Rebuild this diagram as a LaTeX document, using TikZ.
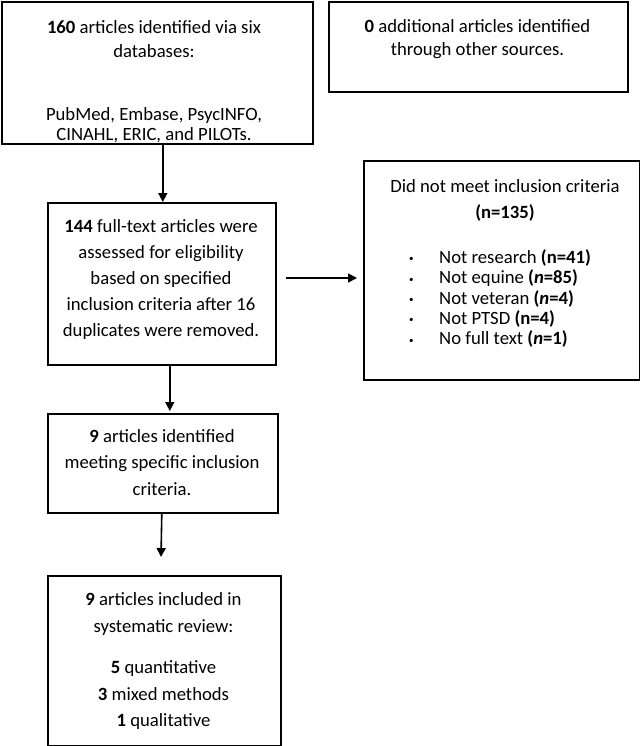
\documentclass[tikz,border=0pt]{standalone}
\usepackage{fontspec}
\setmainfont{Carlito}
\usetikzlibrary{arrows.meta}
\newcommand{\smallbul}{\makebox[30pt][l]{\raisebox{1.5pt}{\fontsize{9}{9}\selectfont •}}}
\begin{document}
\begin{tikzpicture}[x=1pt,y=-1pt,
 box/.style={draw, line width=1.6pt, inner sep=0pt, anchor=north west},
 txt/.style={inner sep=0pt, align=center, anchor=north, font=\fontsize{18.7}{26.5}\selectfont},
 lst/.style={inner sep=0pt, align=left, anchor=north west, font=\fontsize{18.7}{20.4}\selectfont},
 arr/.style={line width=1.6pt, -{Triangle[length=9pt,width=9pt]}}]
\useasboundingbox (0,0) rectangle (640,746);
% boxes
\node[box, minimum width=311pt, minimum height=142pt] (b1) at (1,1) {};
\node[box, minimum width=299pt, minimum height=90pt] (b0) at (328,1) {};
\node[box, minimum width=228pt, minimum height=162pt] (b2) at (47,202) {};
\node[box, minimum width=275.5pt, minimum height=218.5pt] (bx) at (363,160.5) {};
\node[box, minimum width=230pt, minimum height=99pt] (b3) at (47,413) {};
\node[box, minimum width=233pt, minimum height=170pt] (b4) at (47,575) {};
% texts
\node[txt] (t1) at (154,20.8) {\textbf{160} articles identified via six\\[-3.1pt]databases:\\[36.8pt]PubMed, Embase, PsycINFO,\\[-6.5pt]CINAHL, ERIC, and PILOTs.};
\node[txt] (t0) at (477.5,19.2) {\textbf{0} additional articles identified\\[-3.2pt]through other sources.};
\node[txt] (t2) at (161,219.2) {\textbf{144} full-text articles were\\[-0.5pt]assessed for eligibility\\[-0.5pt]based on specified\\[-0.5pt]inclusion criteria after 16\\[-0.5pt]duplicates were removed.};
\node[txt] (t3) at (162,429.2) {\textbf{9} articles identified\\meeting specific inclusion\\criteria.};
\node[txt] (t4) at (163.5,592.5) {\textbf{9} articles included in\\systematic review:\\[15.1pt]\textbf{5} quantitative\\\textbf{3} mixed methods\\\textbf{1} qualitative};
\node[txt] (tx) at (505,179.2) {Did not meet inclusion criteria\\[-0.2pt]\textbf{(n=135)}};
\node[lst] (tl) at (409,249.2) {%
\smallbul Not research \textbf{(n=41)}\\
\smallbul Not equine \textbf{(\textit{n}=85)}\\
\smallbul Not veteran \textbf{(\textit{n}=4)}\\
\smallbul Not PTSD \textbf{(n=4)}\\
\smallbul No full text \textbf{(\textit{n}=1)}};
% connectors
\coordinate (c3) at (161,557);
\coordinate (h1) at (286,278);
\coordinate (h2) at (357,278);
\draw[arr] ([xshift=5.5pt]b1.south) -- ([xshift=5.5pt]b1.south |- b2.north);
\draw[arr, shorten >=2pt] ([xshift=8pt]b2.south) -- ([xshift=8pt]b2.south |- b3.north);
\draw[arr] ([xshift=-1pt]b3.south) -- (c3);
\draw[arr] (h1) -- (h2);
\end{tikzpicture}
\end{document}
